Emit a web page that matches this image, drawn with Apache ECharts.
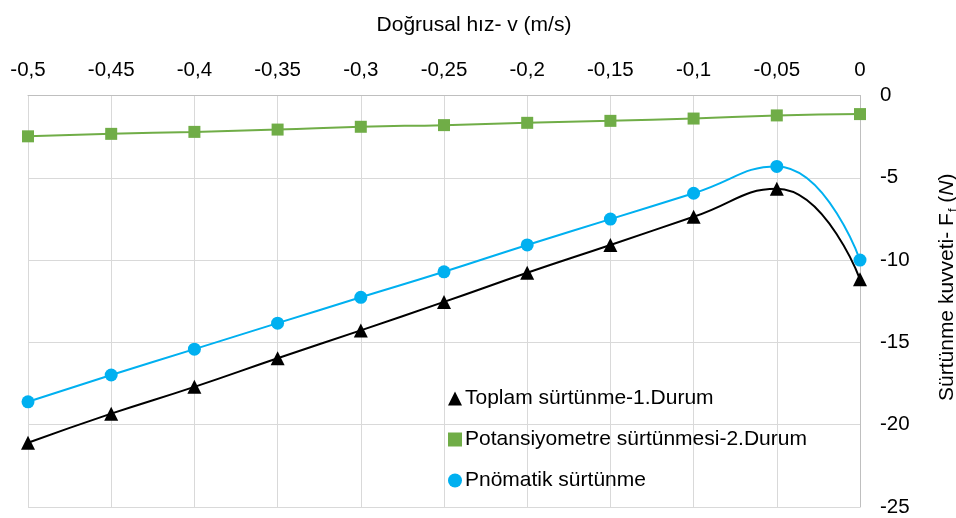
<!DOCTYPE html>
<html>
<head>
<meta charset="utf-8">
<title>Sürtünme kuvveti</title>
<script src="https://cdn.jsdelivr.net/npm/echarts@6/dist/echarts.min.js"></script>
<style>
  html, body { margin: 0; padding: 0; background: #fff; }
  #chart { width: 956px; height: 518px; }
</style>
</head>
<body>
<div id="chart"></div>
<script>
// Velocity values (m/s)
const velocities = [-0.5, -0.45, -0.4, -0.35, -0.3, -0.25, -0.2, -0.15, -0.1, -0.05, 0];

// Friction force values (N)
const toplamSurtunme = [-21.1, -19.33, -17.7, -15.96, -14.27, -12.54, -10.77, -9.08, -7.37, -5.67, -11.17];
const potansiyometreSurtunmesi = [-2.48, -2.33, -2.21, -2.07, -1.9, -1.8, -1.66, -1.54, -1.4, -1.21, -1.13];
const pnomatikSurtunme = [-18.61, -16.98, -15.41, -13.83, -12.26, -10.71, -9.08, -7.51, -5.94, -4.31, -10.0];

const seriesNames = ['Toplam sürtünme-1.Durum', 'Potansiyometre sürtünmesi-2.Durum', 'Pnömatik sürtünme'];

const pairs = (ys) => velocities.map((x, i) => [x, ys[i]]);
const fmt = (v) => String(Math.round(v * 100) / 100).replace('.', ',');

const FONT = 'Liberation Sans, Arial, sans-serif';
const GRID_COLOR = '#d9d9d9';

const chart = echarts.init(document.getElementById('chart'), null, { renderer: 'canvas' });

chart.setOption({
  animation: false,
  textStyle: { fontFamily: FONT, color: '#000' },
  grid: { left: 28, right: 96, top: 95.5, bottom: 11, containLabel: false, outerBoundsMode: 'none' },
  legend: {
    orient: 'vertical',
    left: 443,
    top: 383,
    itemWidth: 14,
    itemHeight: 14,
    itemGap: 20,
    textStyle: { fontFamily: FONT, fontSize: 21, color: '#000', lineHeight: 21, padding: [0, 0, 0, -2] },
    data: [
      { name: seriesNames[0], icon: 'triangle' },
      { name: seriesNames[1], icon: 'rect' },
      { name: seriesNames[2], icon: 'circle' }
    ]
  },
  xAxis: {
    type: 'value',
    position: 'top',
    min: -0.5,
    max: 0,
    interval: 0.05,
    name: 'Doğrusal hız- v (m/s)',
    nameLocation: 'middle',
    nameGap: 60,
    nameTextStyle: { fontFamily: FONT, fontSize: 21, color: '#000', padding: [0, 0, 0, 60] },
    axisLine: { show: true, lineStyle: { color: '#bfbfbf', width: 1 } },
    axisTick: { show: false },
    axisLabel: { margin: 15, fontFamily: FONT, fontSize: 20.5, color: '#000', formatter: fmt },
    splitLine: { show: true, lineStyle: { color: GRID_COLOR, width: 1 } }
  },
  yAxis: {
    type: 'value',
    position: 'right',
    min: -25,
    max: 0,
    interval: 5,
    name: '{t|Sürtünme kuvveti- F}{s|f}{t| (}{i|N}{t|)}',
    nameLocation: 'middle',
    nameRotate: 90,
    nameGap: 75,
    nameTextStyle: {
      fontFamily: FONT,
      color: '#000',
      padding: [0, 0, 0, 28],
      rich: {
        t: { fontFamily: FONT, fontSize: 21, color: '#000' },
        s: { fontFamily: FONT, fontSize: 13, color: '#000', padding: [12, 0, 0, 1] },
        i: { fontFamily: FONT, fontSize: 21, color: '#000', fontStyle: 'italic' }
      }
    },
    axisLine: { show: true, lineStyle: { color: '#bfbfbf', width: 1 } },
    axisTick: { show: false },
    axisLabel: { margin: 20, fontFamily: FONT, fontSize: 20.5, color: '#000', formatter: fmt },
    splitLine: { show: true, lineStyle: { color: GRID_COLOR, width: 1 } }
  },
  series: [
    {
      name: seriesNames[0],
      type: 'line',
      smooth: 0.5,
      data: pairs(toplamSurtunme),
      symbol: 'triangle',
      symbolSize: 14,
      itemStyle: { color: '#000000' },
      lineStyle: { color: '#000000', width: 2 }
    },
    {
      name: seriesNames[1],
      type: 'line',
      smooth: 0.5,
      data: pairs(potansiyometreSurtunmesi),
      symbol: 'rect',
      symbolSize: 12,
      itemStyle: { color: '#70ad47' },
      lineStyle: { color: '#70ad47', width: 2 }
    },
    {
      name: seriesNames[2],
      type: 'line',
      smooth: 0.5,
      data: pairs(pnomatikSurtunme),
      symbol: 'circle',
      symbolSize: 13,
      itemStyle: { color: '#00b0f0' },
      lineStyle: { color: '#00b0f0', width: 2 }
    }
  ]
});
</script>
</body>
</html>
